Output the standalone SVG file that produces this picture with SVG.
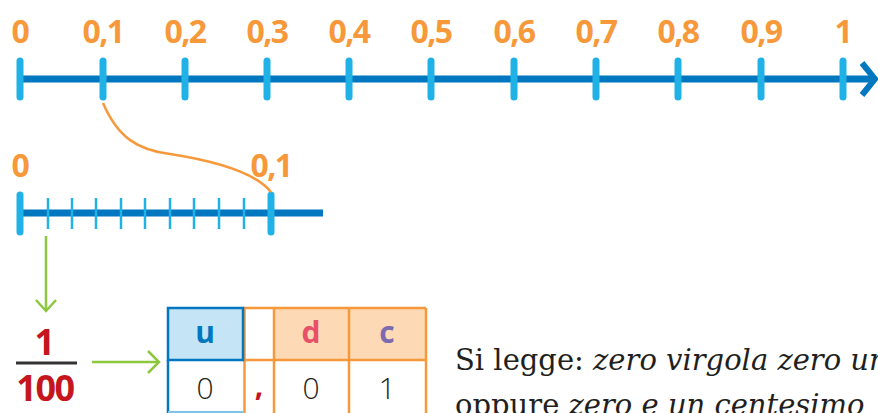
<svg xmlns="http://www.w3.org/2000/svg" width="878" height="413" viewBox="0 0 878 413">
<style>
.lab{font-family:"Open Sans","Liberation Sans",sans-serif;font-weight:700;fill:#F7993A;font-size:32px;text-anchor:middle;letter-spacing:-1.5px}
.axis{stroke:#0077BE;stroke-width:7;fill:none}
.tick{stroke:#20B1E7;stroke-width:7;stroke-linecap:round}
.stick{stroke:#20B1E7;stroke-width:2.5}
.green{stroke:#8DC63F;stroke-width:2.5;fill:none}
.hdr{font-family:"Open Sans","Liberation Sans",sans-serif;font-weight:700;font-size:30px;text-anchor:middle}
.dig{font-family:"Open Sans","Liberation Sans",sans-serif;font-weight:300;font-size:30px;fill:#231F20;text-anchor:middle}
.frac{font-family:"Open Sans","Liberation Sans",sans-serif;font-weight:700;fill:#C4161C;text-anchor:middle;letter-spacing:-1.5px}
.txt{font-family:"DejaVu Serif",serif;font-size:29px;fill:#231F20}
.ob{stroke:#F7993A;stroke-width:2.5}
</style>
<g id="number-line-top">
<line class="axis" x1="17" y1="79" x2="872" y2="79"/>
<polyline points="862,63 875,79 862,95" fill="none" stroke="#0077BE" stroke-width="6"/>
<g class="tick">
<line x1="20" y1="61" x2="20" y2="97"/><line x1="103" y1="61" x2="103" y2="97"/><line x1="185" y1="61" x2="185" y2="97"/><line x1="267" y1="61" x2="267" y2="97"/><line x1="349" y1="61" x2="349" y2="97"/><line x1="431" y1="61" x2="431" y2="97"/><line x1="514" y1="61" x2="514" y2="97"/><line x1="596" y1="61" x2="596" y2="97"/><line x1="678" y1="61" x2="678" y2="97"/><line x1="761" y1="61" x2="761" y2="97"/><line x1="843" y1="61" x2="843" y2="97"/>
</g>
<g class="lab">
<text x="20" y="43">0</text><text x="103" y="43">0,1</text><text x="185" y="43">0,2</text><text x="267" y="43">0,3</text><text x="349" y="43">0,4</text><text x="431" y="43">0,5</text><text x="514" y="43">0,6</text><text x="596" y="43">0,7</text><text x="678" y="43">0,8</text><text x="761" y="43">0,9</text><text x="843" y="43">1</text>
</g>
</g>
<g id="number-line-zoom">
<line class="axis" x1="17" y1="213" x2="323" y2="213" stroke-width="8"/>
<g class="stick">
<line x1="48" y1="198" x2="48" y2="229"/><line x1="72" y1="198" x2="72" y2="229"/><line x1="96" y1="198" x2="96" y2="229"/><line x1="121" y1="198" x2="121" y2="229"/><line x1="145" y1="198" x2="145" y2="229"/><line x1="170" y1="198" x2="170" y2="229"/><line x1="194" y1="198" x2="194" y2="229"/><line x1="219" y1="198" x2="219" y2="229"/><line x1="244" y1="198" x2="244" y2="229"/>
</g>
<line class="tick" x1="20" y1="195" x2="20" y2="232"/>
<line class="tick" x1="271" y1="195" x2="271" y2="232"/>
<text class="lab" x="20" y="177">0</text>
<text class="lab" x="271" y="177">0,1</text>
</g>
<g id="fraction">
<text class="frac" x="44" y="355" font-size="36">1</text>
<line x1="16" y1="363" x2="77" y2="363" stroke="#333" stroke-width="3"/>
<text class="frac" x="45" y="401" font-size="36">100</text>
</g>
<g id="table">
<rect x="168" y="308" width="75" height="52" fill="#C5E4F6"/>
<rect x="274" y="308" width="152" height="52" fill="#FDDAB5"/>
<g class="ob">
<line x1="243" y1="308" x2="426" y2="308"/>
<line x1="243" y1="360" x2="426" y2="360"/>
<line x1="426" y1="308" x2="426" y2="413"/>
<line x1="244.5" y1="308" x2="244.5" y2="413"/>
<line x1="274" y1="308" x2="274" y2="413"/>
<line x1="349" y1="308" x2="349" y2="413"/>
</g>
<line x1="168" y1="360" x2="168" y2="413" stroke="#0077BE" stroke-width="2.5"/>
<line x1="168" y1="412" x2="243" y2="412" stroke="#7FC3EA" stroke-width="2"/>
<rect x="168" y="308" width="75" height="52" fill="none" stroke="#0077BE" stroke-width="2.5"/>
<text class="hdr" x="205" y="343" fill="#0077BE">u</text>
<text class="hdr" x="311" y="343" fill="#E8506A">d</text>
<text class="hdr" x="387" y="343" fill="#7D6BB0">c</text>
<text class="dig" x="205" y="399">0</text>
<text class="hdr" x="259" y="396" fill="#C4161C">,</text>
<text class="dig" x="311" y="399">0</text>
<text class="dig" x="387" y="399">1</text>
</g>
<g id="reading">
<text class="txt" x="455" y="370">Si legge: <tspan font-style="italic">zero virgola zero uno</tspan></text>
<text class="txt" x="455" y="415">oppure <tspan font-style="italic">zero e un centesimo</tspan></text>
</g>
<g id="connectors">
<path d="M103,103 C118,138 138,150 170,154 C215,161 255,172 271,192" fill="none" stroke="#F7993A" stroke-width="2.5"/>
<line class="green" x1="46" y1="236" x2="46" y2="311"/>
<polyline class="green" points="36,300 46,311 56,300"/>
<line class="green" x1="92" y1="362" x2="159" y2="362"/>
<polyline class="green" points="148,351 159,362 148,373"/>
</g>
</svg>
